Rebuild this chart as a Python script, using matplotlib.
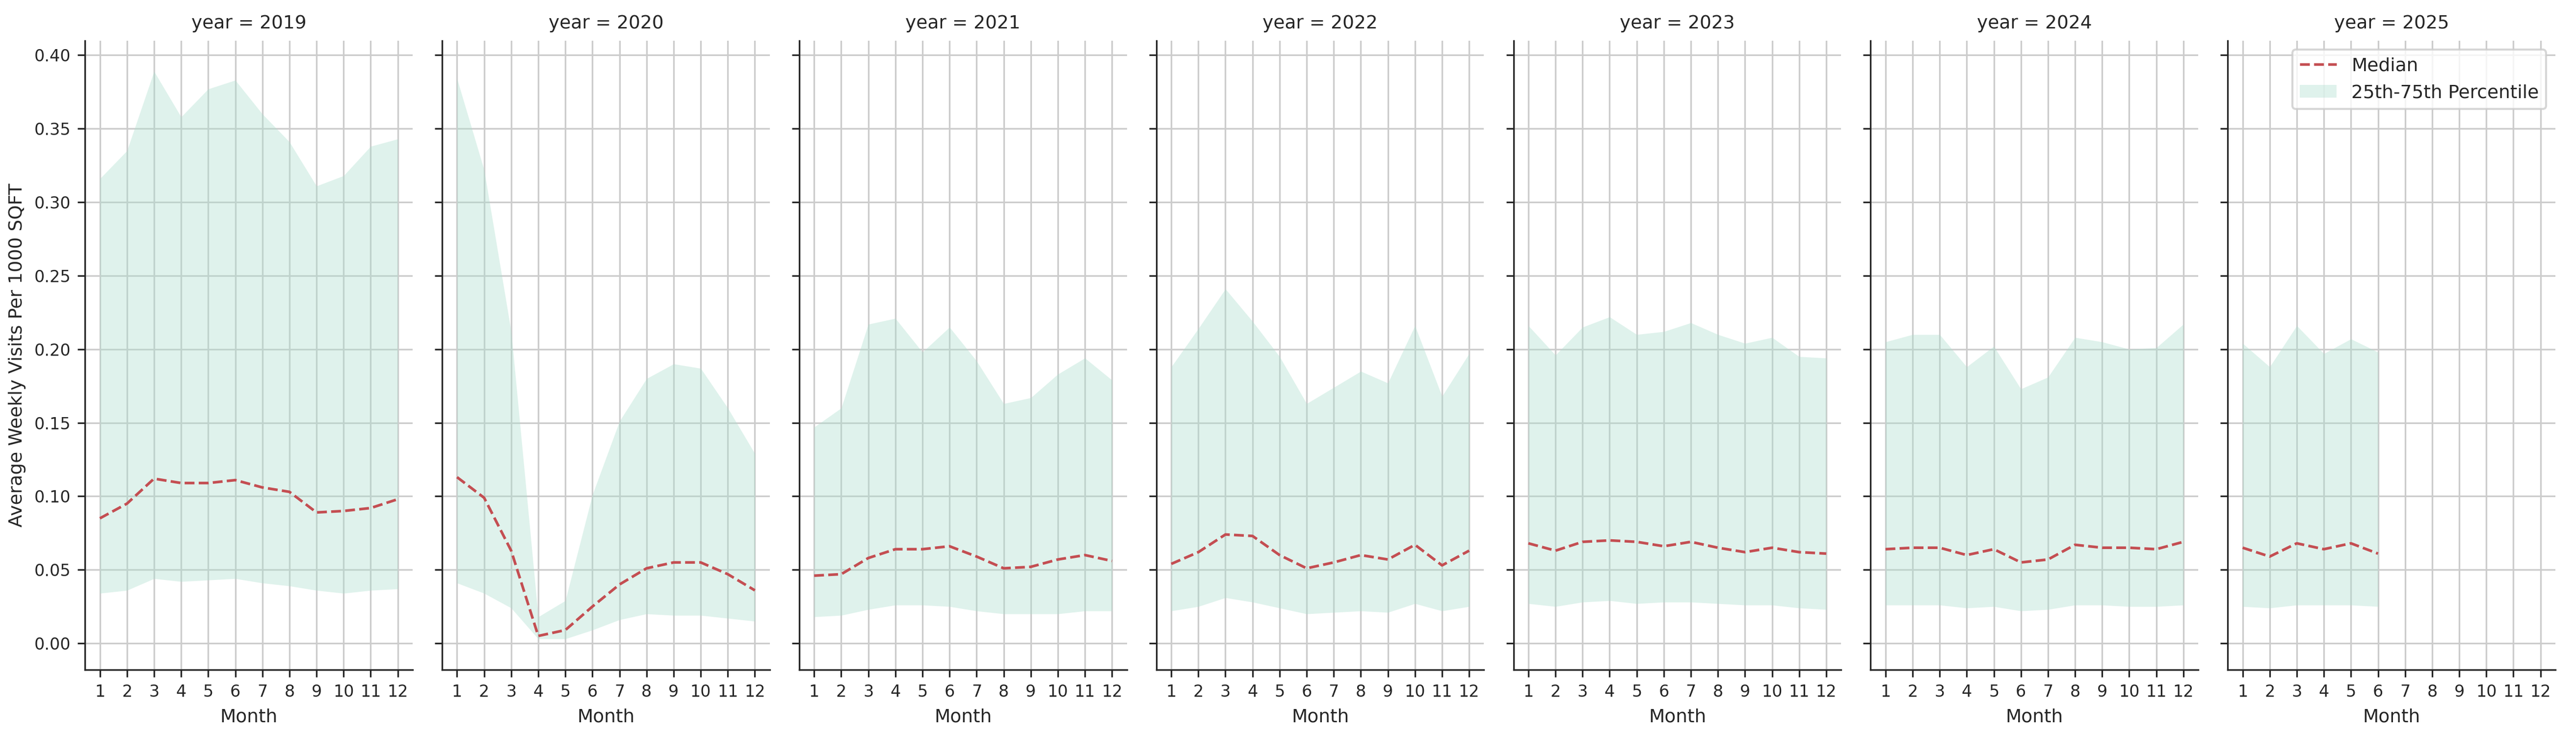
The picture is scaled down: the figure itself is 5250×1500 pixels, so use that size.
import numpy as np
import matplotlib
matplotlib.use("Agg")
import matplotlib.pyplot as plt
import seaborn as sns

# ------------------------------------------------------------
# Data
# ------------------------------------------------------------
years = [2019, 2020, 2021, 2022, 2023, 2024, 2025]
months = list(range(1, 13))

median = {
    2019: [0.085, 0.095, 0.112, 0.109, 0.109, 0.111, 0.106, 0.103, 0.089, 0.090, 0.092, 0.098],
    2020: [0.113, 0.099, 0.063, 0.005, 0.009, 0.025, 0.040, 0.051, 0.055, 0.055, 0.047, 0.036],
    2021: [0.046, 0.047, 0.058, 0.064, 0.064, 0.066, 0.059, 0.051, 0.052, 0.057, 0.060, 0.056],
    2022: [0.054, 0.062, 0.074, 0.073, 0.060, 0.051, 0.055, 0.060, 0.057, 0.067, 0.053, 0.063],
    2023: [0.068, 0.063, 0.069, 0.070, 0.069, 0.066, 0.069, 0.065, 0.062, 0.065, 0.062, 0.061],
    2024: [0.064, 0.065, 0.065, 0.060, 0.064, 0.055, 0.057, 0.067, 0.065, 0.065, 0.064, 0.069],
    2025: [0.065, 0.059, 0.068, 0.064, 0.068, 0.061],
}
p25 = {
    2019: [0.034, 0.036, 0.044, 0.042, 0.043, 0.044, 0.041, 0.039, 0.036, 0.034, 0.036, 0.037],
    2020: [0.041, 0.034, 0.024, 0.003, 0.003, 0.009, 0.016, 0.020, 0.019, 0.019, 0.017, 0.015],
    2021: [0.018, 0.019, 0.023, 0.026, 0.026, 0.025, 0.022, 0.020, 0.020, 0.020, 0.022, 0.022],
    2022: [0.022, 0.025, 0.031, 0.028, 0.024, 0.020, 0.021, 0.022, 0.021, 0.027, 0.022, 0.025],
    2023: [0.027, 0.025, 0.028, 0.029, 0.027, 0.028, 0.028, 0.027, 0.026, 0.026, 0.024, 0.023],
    2024: [0.026, 0.026, 0.026, 0.024, 0.025, 0.022, 0.023, 0.026, 0.026, 0.025, 0.025, 0.026],
    2025: [0.025, 0.024, 0.026, 0.026, 0.026, 0.025],
}
p75 = {
    2019: [0.316, 0.335, 0.389, 0.358, 0.377, 0.383, 0.360, 0.341, 0.311, 0.318, 0.338, 0.343],
    2020: [0.384, 0.322, 0.212, 0.018, 0.029, 0.101, 0.151, 0.180, 0.190, 0.187, 0.160, 0.129],
    2021: [0.147, 0.160, 0.217, 0.221, 0.198, 0.215, 0.192, 0.163, 0.167, 0.183, 0.194, 0.179],
    2022: [0.188, 0.214, 0.241, 0.219, 0.195, 0.163, 0.174, 0.185, 0.177, 0.216, 0.168, 0.197],
    2023: [0.216, 0.196, 0.215, 0.222, 0.210, 0.212, 0.218, 0.210, 0.204, 0.208, 0.195, 0.194],
    2024: [0.205, 0.210, 0.210, 0.188, 0.202, 0.173, 0.181, 0.208, 0.205, 0.200, 0.201, 0.217],
    2025: [0.204, 0.188, 0.216, 0.197, 0.207, 0.198],
}

# ------------------------------------------------------------
# Plot
# ------------------------------------------------------------
sns.set_style("ticks", {"axes.grid": True})

fig, axes = plt.subplots(1, len(years), figsize=(17.5, 5), dpi=300, sharey=True)
fig.subplots_adjust(left=0.033, right=0.992, top=0.945, bottom=0.09, wspace=0.09)

for ax, yr in zip(axes, years):
    x = months[:len(median[yr])]
    ax.plot(x, median[yr], color="#c44e52", linestyle="--", linewidth=1.3, label="Median")
    ax.fill_between(x, p25[yr], p75[yr], color="#aadecd", alpha=0.37,
                    linewidth=0, label="25th-75th Percentile")
    ax.set_title(f"year = {yr}", fontsize=9)
    ax.set_xticks(months)
    ax.set_xlim(0.45, 12.55)
    ax.set_ylim(-0.018, 0.41)
    ax.set_yticks(np.arange(0, 0.41, 0.05))
    ax.set_xlabel("Month", fontsize=9)
    ax.tick_params(labelsize=8)
    sns.despine(ax=ax)

axes[0].set_ylabel("Average Weekly Visits Per 1000 SQFT", fontsize=9)
axes[-1].legend(loc="upper right", fontsize=9)

fig.savefig("out.png")
